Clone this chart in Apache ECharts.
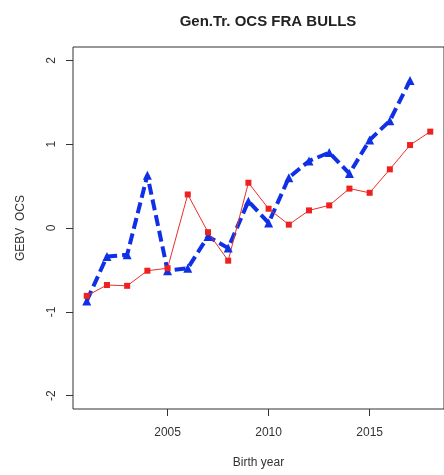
<!DOCTYPE html>
<html>
<head>
<meta charset="utf-8">
<script src="https://cdn.jsdelivr.net/npm/echarts@6/dist/echarts.min.js"></script>
<style>html,body{margin:0;padding:0;background:#fff;}#c{width:444px;height:475px;}</style>
</head>
<body>
<div id="c"></div>
<script>
const titleText = 'Gen.Tr. OCS FRA BULLS';
const xName = 'Birth year';
const yName = 'GEBV  OCS';
const xTicks = [2005, 2010, 2015];
const yTicks = [-2, -1, 0, 1, 2];
const blueYears = [2001,2002,2003,2004,2005,2006,2007,2008,2009,2010,2011,2012,2013,2014,2015,2016,2017];
const blueValues = [-0.87,-0.34,-0.32,0.63,-0.51,-0.48,-0.10,-0.24,0.32,0.06,0.60,0.80,0.90,0.65,1.05,1.28,1.76];
const redYears = [2001,2002,2003,2004,2005,2006,2007,2008,2009,2010,2011,2012,2013,2014,2015,2016,2017,2018];
const redValues = [-0.81,-0.68,-0.69,-0.51,-0.48,0.40,-0.05,-0.39,0.54,0.23,0.04,0.21,0.27,0.47,0.42,0.70,0.99,1.15];

const font = 'Liberation Sans, Arial, Helvetica, sans-serif';
const chart = echarts.init(document.getElementById('c'), null, {renderer: 'canvas'});
chart.setOption({
  animation: false,
  backgroundColor: '#fff',
  title: {
    text: titleText, left: 263, top: 9, textAlign: 'center',
    textStyle: {fontSize: 15, fontWeight: 'bold', color: '#222', fontFamily: font}
  },
  grid: {left: 73, top: 47, width: 380, height: 362, show: true, borderColor: '#333', borderWidth: 1},
  xAxis: {
    type: 'value', min: 2000.32, max: 2018.68,
    name: xName, nameLocation: 'middle', nameGap: 48,
    nameTextStyle: {fontSize: 12, color: '#333', fontFamily: font},
    axisLine: {show: false, onZero: false},
    splitLine: {show: false},
    axisTick: {show: true, customValues: xTicks, length: 7, lineStyle: {color: '#333'}},
    axisLabel: {customValues: xTicks, margin: 18, fontSize: 12, color: '#333', fontFamily: font,
      formatter: v => String(v)}
  },
  yAxis: {
    type: 'value', min: -2.16, max: 2.16,
    name: yName, nameLocation: 'middle', nameGap: 46, nameRotate: 90,
    nameTextStyle: {fontSize: 12, color: '#333', fontFamily: font},
    axisLine: {show: false, onZero: false},
    splitLine: {show: false},
    axisTick: {show: true, customValues: yTicks, length: 7, lineStyle: {color: '#333'}},
    axisLabel: {customValues: yTicks, rotate: 90, margin: 15, fontSize: 12, color: '#333', fontFamily: font,
      formatter: v => String(v)}
  },
  series: [
    {
      type: 'line', data: blueYears.map((y, i) => [y, blueValues[i]]),
      symbol: 'triangle', symbolSize: 9,
      lineStyle: {color: '#1030e8', width: 4, type: [11, 5]},
      itemStyle: {color: '#1030e8'}
    },
    {
      type: 'line', data: redYears.map((y, i) => [y, redValues[i]]),
      symbol: 'rect', symbolSize: 6,
      lineStyle: {color: '#e83028', width: 1},
      itemStyle: {color: '#ee2020'}
    }
  ]
});
</script>
</body>
</html>
